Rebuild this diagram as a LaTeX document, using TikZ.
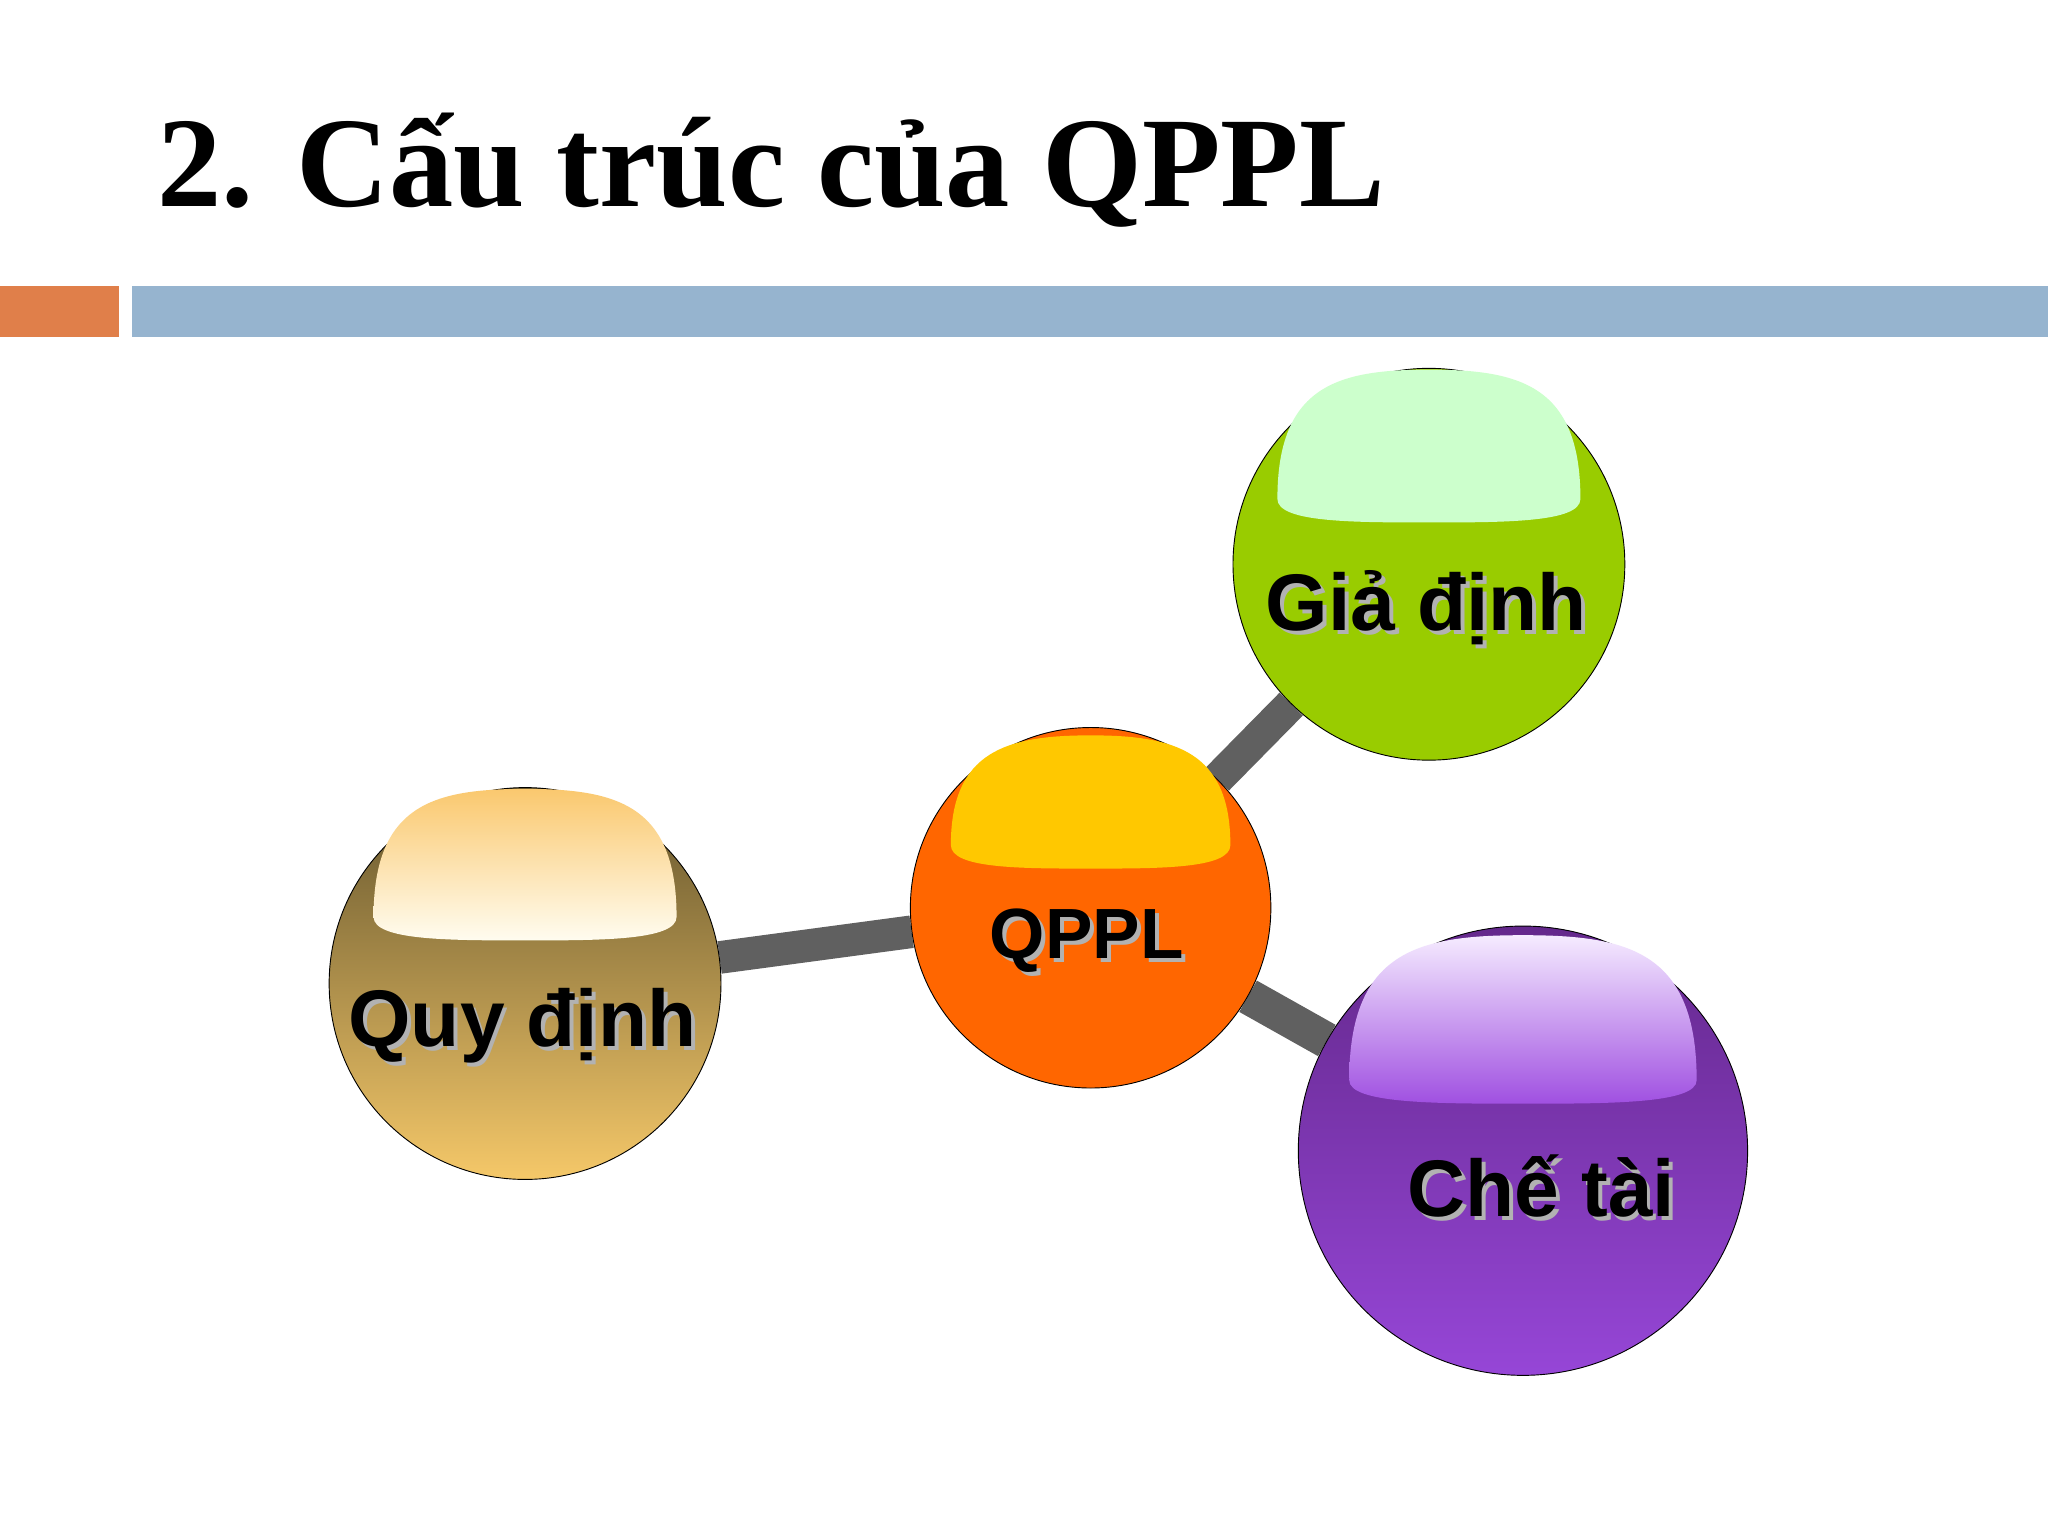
\documentclass[tikz,border=0pt]{standalone}
\usepackage{fontspec}
\setmainfont{Liberation Serif}
\newfontfamily\arialb{Liberation Sans}[BoldFont={* Bold}]
\begin{document}
\begin{tikzpicture}[x=0.02cm,y=-0.02cm]
\definecolor{orangebar}{HTML}{E07F4A}
\definecolor{bluebar}{HTML}{96B4CF}
\definecolor{gdc}{RGB}{153,204,0}
\definecolor{gdh}{RGB}{204,255,204}
\definecolor{qpc}{RGB}{255,102,0}
\definecolor{qph}{RGB}{255,200,0}
\definecolor{qdt}{RGB}{100,85,45}
\definecolor{qdb}{RGB}{245,200,105}
\definecolor{qdht}{RGB}{250,200,110}
\definecolor{qdhb}{RGB}{255,252,240}
\definecolor{ctt}{RGB}{100,40,140}
\definecolor{ctb}{RGB}{150,70,215}
\definecolor{ctht}{RGB}{245,235,255}
\definecolor{cthb}{RGB}{160,80,225}
\tikzset{
  ball/.style={circle,inner sep=0pt,minimum size=#1*0.04cm},
  lbl/.style={font=\arialb\bfseries\fontsize{35}{40}\selectfont},
  link/.style={line width=0.5cm,color=gray!75!black},
}
\newcommand\dome[5]{% cx yt yb w color
  \fill[#5] (#1-#4,#3-18) .. controls (#1-#4,#2+12) and (#1-0.6*#4,#2) .. (#1,#2)
   .. controls (#1+0.6*#4,#2) and (#1+#4,#2+12) .. (#1+#4,#3-18)
   .. controls (#1+#4,#3) and (#1+0.5*#4,#3) .. (#1,#3)
   .. controls (#1-0.5*#4,#3) and (#1-#4,#3) .. cycle;}
\newcommand\shtext[4]{\node[lbl,text=gray!60] at (#1+3,#2+3) {#4};
  \node[lbl] (#3) at (#1,#2) {#4};}
\useasboundingbox (0,0) rectangle (1568,1176);
\fill[white] (0,0) rectangle (1568,1176);
\node[anchor=base west,inner sep=0pt,font=\bfseries\fontsize{56}{60}\selectfont] (title) at (120,158) {2. Cấu trúc của QPPL};
\fill[orangebar] (0,219) rectangle (91,258);
\fill[bluebar] (101,219) rectangle (1568,258);
% nodes
\path (1094,432) node[ball=150] (gd) {};
\path (835,695) node[ball=138] (qp) {};
\path (402,753) node[ball=150] (qd) {};
\path (1166,881) node[ball=172] (ct) {};
% connectors
\draw[link] (qd) -- (qp);
\draw[link] (qp) -- (gd);
\draw[link,line width=0.55cm] (qp) -- (ct);
% balls
\fill[gdc] (gd.center) circle (150);
\draw[black,thin] (gd.center) circle (150);
\dome{1094}{283}{400}{116}{gdh}
\fill[qpc] (qp.center) circle (138);
\draw[black,thin] (qp.center) circle (138);
\dome{835}{563}{665}{107}{qph}
\shade[top color=qdt,bottom color=qdb] (qd.center) circle (150);
\draw[black,thin] (qd.center) circle (150);
\shade[top color=qdht,bottom color=qdhb] (286,702) .. controls (286,616) and (332,604) .. (402,604) .. controls (472,604) and (518,616) .. (518,702) .. controls (518,720) and (460,720) .. (402,720) .. controls (344,720) and (286,720) .. cycle;
\shade[top color=ctt,bottom color=ctb] (ct.center) circle (172);
\draw[black,thin] (ct.center) circle (172);
\shade[top color=ctht,bottom color=cthb] (1033,827) .. controls (1033,728) and (1086,716) .. (1166,716) .. controls (1246,716) and (1299,728) .. (1299,827) .. controls (1299,845) and (1232,845) .. (1166,845) .. controls (1100,845) and (1033,845) .. cycle;
% labels
\shtext{1092}{465}{tgd}{Giả định}
\shtext{832}{720}{tqp}{\fontsize{31}{36}\selectfont QPPL}
\shtext{400}{785}{tqd}{Quy định}
\shtext{1180}{908}{tct}{Chế tài}
\end{tikzpicture}
\end{document}
